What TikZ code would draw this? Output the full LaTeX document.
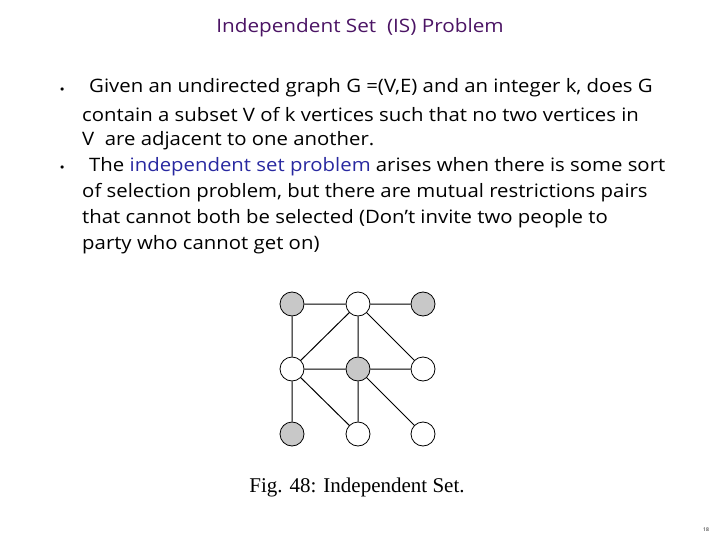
\documentclass[tikz,border=0pt]{standalone}
\usepackage{fontspec}
\setmainfont{Open Sans}
\newfontfamily\capfont{Liberation Serif}
\definecolor{ttl}{RGB}{75,20,100}
\definecolor{hl}{RGB}{40,40,160}
\definecolor{vg}{RGB}{200,200,200}
\begin{document}
\begin{tikzpicture}[x=1pt,y=-1pt,
  txt/.style={anchor=west,inner sep=0pt,xscale=1.1,font=\fontsize{18.5}{20}\selectfont},
  vtx/.style={circle,draw,line width=0.8pt,minimum size=24pt,inner sep=0pt,fill=white},
  gv/.style={vtx,fill=vg},
  ed/.style={line width=1pt}]
\useasboundingbox (0,0) rectangle (720,540);
\node[font=\fontsize{18.5}{20}\selectfont,xscale=1.12,text=ttl] (title) at (360,28) {Independent Set \ (IS) Problem};
\node[anchor=west,inner sep=0pt] (b1) at (60,90) {\fontsize{8}{8}\selectfont$\bullet$};
\node[anchor=west,inner sep=0pt] (b2) at (60,168) {\fontsize{8}{8}\selectfont$\bullet$};
\node[txt] (l1) at (89,88) {Given an undirected graph G =(V,E) and an integer k, does G};
\node[txt] (l2) at (82,115) {contain a subset V of k vertices such that no two vertices in};
\node[txt] (l3) at (82,141) {V \ are adjacent to one another.};
\node[txt] (l4) at (89,167) {The \textcolor{hl}{independent set problem} arises when there is some sort};
\node[txt] (l5) at (82,193) {of selection problem, but there are mutual restrictions pairs};
\node[txt] (l6) at (82,219) {that cannot both be selected (Don’t invite two people to};
\node[txt] (l7) at (82,245) {party who cannot get on)};
\node[gv] (a) at (292,304) {};
\node[vtx] (b) at (358,304) {};
\node[gv] (c) at (423,304) {};
\node[vtx] (d) at (292,369) {};
\node[gv] (e) at (358,369) {};
\node[vtx] (f) at (423,369) {};
\node[gv] (g) at (292,434) {};
\node[vtx] (h) at (358,434) {};
\node[vtx] (i) at (423,434) {};
\draw[ed] (a)--(b) (b)--(c) (a)--(d) (b)--(d) (b)--(e) (b)--(f) (d)--(e) (e)--(f) (d)--(g) (d)--(h) (e)--(h) (e)--(i);
\node[font=\capfont\fontsize{21}{22}\selectfont] (cap) at (357,487) {Fig. 48: Independent Set.};
\node[font=\fontsize{5}{5}\selectfont] (pg) at (706,530) {18};
\end{tikzpicture}
\end{document}
